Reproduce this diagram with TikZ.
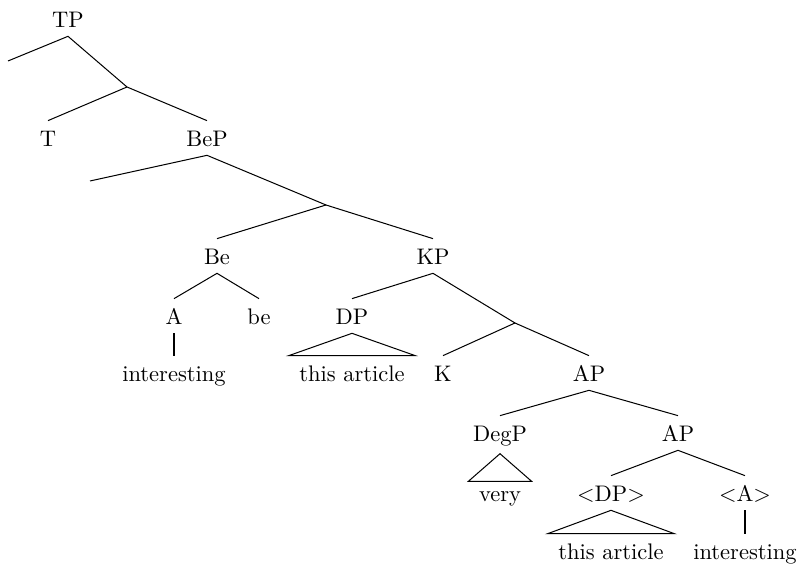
\documentclass[tikz,border=0pt]{standalone}
\usepackage{tikz}
\usetikzlibrary{positioning}

\tikzset{
  lbl/.style={anchor=base, inner xsep=2pt, inner ysep=2pt, text height=9.5pt, text depth=1.5pt},
  roofleaf/.style={lbl, inner xsep=4.5pt},
  branch/.style={draw=black, line width=0.45pt}
}

\begin{document}
\begin{tikzpicture}[x=0.444pt, y=-0.444pt]
  \useasboundingbox (0,0) rectangle (802,570);
  % labels
  \node[lbl] (tp) at (68,28) {TP};
  \node[lbl] (t) at (48,147) {T};
  \node[lbl] (bep) at (207,147) {BeP};
  \node[lbl] (be) at (217,265) {Be};
  \node[lbl] (kp) at (433,265) {KP};
  \node[lbl] (a) at (174,325) {A};
  \node[lbl] (behead) at (259,325) {be};
  \node[lbl] (dp) at (352,325) {DP};
  \node[lbl] (interesting) at (174,382) {interesting};
  \node[roofleaf] (article) at (352,382) {this article};
  \node[lbl] (k) at (443,382) {K};
  \node[lbl] (ap) at (589,382) {AP};
  \node[lbl, text depth=3pt] (degp) at (500,442) {DegP};
  \node[lbl] (apbar) at (678,442) {AP};
  \node[roofleaf, text height=7pt] (very) at (500,502) {very};
  \node[lbl] (dptrace) at (611,502) {$<$DP$>$};
  \node[lbl] (atrace) at (745,502) {$<$A$>$};
  \node[roofleaf] (articletrace) at (611,560) {this article};
  \node[lbl] (interestingtrace) at (745,560) {interesting};
  % empty specifiers and branching points
  \coordinate (tpspec) at (8,61);
  \coordinate (tbar) at (127,87);
  \coordinate (bepspec) at (90,181);
  \coordinate (bebar) at (326,205);
  \coordinate (kbar) at (515,323);
  % branches
  \draw[branch] (tpspec) -- (tp.south) -- (tbar);
  \draw[branch] (t.north) -- (tbar) -- (bep.north);
  \draw[branch] (bepspec) -- (bep.south) -- (bebar);
  \draw[branch] (be.north) -- (bebar) -- (kp.north);
  \draw[branch] (a.north) -- (be.south) -- (behead.north);
  \draw[branch] (a.south) -- (interesting.north);
  \draw[branch] (dp.north) -- (kp.south) -- (kbar);
  \draw[branch] (dp.south) -- (article.north west) -- (article.north east) -- cycle;
  \draw[branch] (k.north) -- (kbar) -- (ap.north);
  \draw[branch] (degp.north) -- (ap.south) -- (apbar.north);
  \draw[branch] (degp.south) -- (very.north west) -- (very.north east) -- cycle;
  \draw[branch] (dptrace.north) -- (apbar.south) -- (atrace.north);
  \draw[branch] (dptrace.south) -- (articletrace.north west) -- (articletrace.north east) -- cycle;
  \draw[branch] (atrace.south) -- (interestingtrace.north);
\end{tikzpicture}
\end{document}
